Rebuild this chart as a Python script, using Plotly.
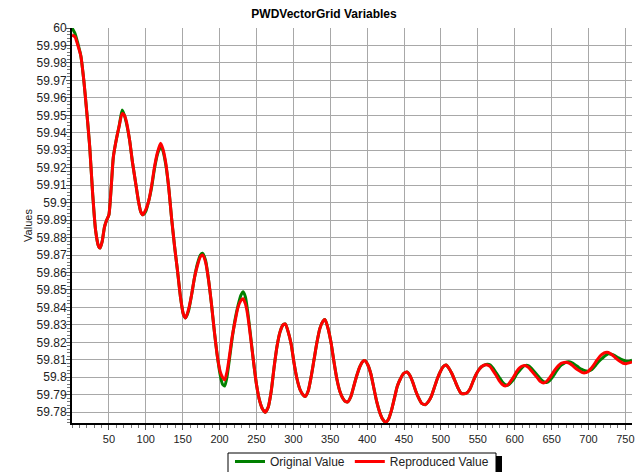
import plotly.graph_objects as go

# ---- data ----
x_vals = [0, 4, 8, 12, 16, 20, 24, 28, 32, 36, 38, 41, 44, 47, 50, 53, 56, 60, 64, 68,
          71, 74, 78, 82, 86, 90, 93, 96, 100, 104, 108, 112, 116, 120, 123, 127, 131, 135, 139, 143,
          147, 151, 154, 158, 162, 166, 170, 174, 177, 181, 185, 189, 193, 197, 201, 204, 207, 210, 213, 217,
          221, 225, 229, 232, 235, 238, 242, 246, 250, 254, 258, 262, 266, 270, 274, 278, 282, 286, 289, 293,
          297, 301, 305, 309, 313, 316, 320, 324, 328, 332, 336, 340, 343, 347, 351, 355, 359, 363, 367, 371,
          374, 378, 382, 386, 390, 394, 397, 401, 405, 409, 413, 417, 421, 425, 429, 433, 437, 441, 445, 449,
          454, 458, 462, 466, 470, 474, 479, 483, 487, 491, 495, 499, 503, 507, 511, 515, 519, 523, 527, 531,
          535, 539, 543, 547, 551, 555, 559, 563, 567, 571, 575, 579, 583, 587, 591, 595, 599, 603, 607, 611,
          615, 619, 623, 627, 631, 635, 639, 643, 647, 651, 655, 659, 663, 667, 671, 675, 679, 683, 687, 691,
          695, 699, 703, 707, 711, 715, 719, 723, 727, 731, 735, 739, 743, 747, 751, 755, 759]

original_value = [60.000, 59.997, 59.991, 59.984, 59.970, 59.952, 59.932, 59.905, 59.884, 59.875, 59.874, 59.878, 59.886, 59.890, 59.893, 59.908, 59.926, 59.936, 59.944, 59.953,
                  59.950, 59.945, 59.936, 59.923, 59.912, 59.901, 59.895, 59.893, 59.895, 59.901, 59.909, 59.920, 59.928, 59.932, 59.930, 59.922, 59.909, 59.891, 59.875, 59.861,
                  59.846, 59.836, 59.834, 59.838, 59.847, 59.857, 59.865, 59.870, 59.871, 59.867, 59.856, 59.842, 59.826, 59.812, 59.801, 59.796, 59.795, 59.800, 59.809, 59.822,
                  59.833, 59.841, 59.847, 59.849, 59.846, 59.838, 59.824, 59.809, 59.796, 59.787, 59.782, 59.780, 59.783, 59.792, 59.806, 59.818, 59.826, 59.830, 59.8305, 59.826,
                  59.819, 59.808, 59.799, 59.793, 59.790, 59.789, 59.792, 59.800, 59.810, 59.820, 59.828, 59.832, 59.833, 59.828, 59.820, 59.809, 59.799, 59.792, 59.788, 59.786,
                  59.786, 59.789, 59.795, 59.801, 59.806, 59.809, 59.8095, 59.807, 59.802, 59.794, 59.786, 59.780, 59.776, 59.7742, 59.776, 59.781, 59.788, 59.795, 59.799, 59.802,
                  59.803, 59.801, 59.797, 59.792, 59.788, 59.785, 59.7843, 59.786, 59.789, 59.794, 59.799, 59.803, 59.806, 59.807, 59.805, 59.802, 59.798, 59.794, 59.791, 59.7905,
                  59.791, 59.793, 59.797, 59.801, 59.804, 59.806, 59.807, 59.8074, 59.8070, 59.805, 59.8025, 59.800, 59.7975, 59.7958, 59.7955, 59.797, 59.799, 59.802, 59.804, 59.806,
                  59.8068, 59.8065, 59.805, 59.803, 59.801, 59.799, 59.7975, 59.797, 59.798, 59.800, 59.8025, 59.805, 59.807, 59.808, 59.8088, 59.8088, 59.808, 59.8068, 59.8055, 59.8045,
                  59.8038, 59.8035, 59.804, 59.8055, 59.8075, 59.8095, 59.811, 59.8125, 59.8135, 59.8132, 59.8125, 59.8115, 59.8105, 59.8098, 59.8092, 59.8092, 59.8098]

reproduced_value = [59.996, 59.995, 59.990, 59.984, 59.970, 59.952, 59.932, 59.905, 59.884, 59.875, 59.874, 59.878, 59.886, 59.890, 59.893, 59.908, 59.926, 59.936, 59.944, 59.951,
                    59.950, 59.946, 59.936, 59.923, 59.912, 59.901, 59.895, 59.893, 59.896, 59.901, 59.910, 59.921, 59.929, 59.934, 59.931, 59.923, 59.909, 59.891, 59.875, 59.861,
                    59.846, 59.836, 59.834, 59.839, 59.847, 59.857, 59.864, 59.869, 59.870, 59.866, 59.856, 59.842, 59.826, 59.812, 59.803, 59.800, 59.7985, 59.803, 59.811, 59.823,
                    59.832, 59.840, 59.844, 59.845, 59.842, 59.836, 59.823, 59.809, 59.796, 59.787, 59.782, 59.780, 59.783, 59.792, 59.806, 59.818, 59.826, 59.830, 59.8305, 59.826,
                    59.819, 59.808, 59.799, 59.793, 59.790, 59.789, 59.792, 59.800, 59.810, 59.820, 59.828, 59.832, 59.833, 59.828, 59.820, 59.809, 59.799, 59.792, 59.788, 59.786,
                    59.786, 59.789, 59.795, 59.801, 59.806, 59.809, 59.8095, 59.807, 59.802, 59.794, 59.786, 59.780, 59.776, 59.7742, 59.776, 59.781, 59.788, 59.795, 59.799, 59.802,
                    59.803, 59.801, 59.797, 59.792, 59.788, 59.785, 59.7843, 59.786, 59.789, 59.794, 59.799, 59.803, 59.806, 59.807, 59.805, 59.802, 59.798, 59.794, 59.791, 59.7905,
                    59.791, 59.793, 59.797, 59.801, 59.804, 59.806, 59.807, 59.8070, 59.8060, 59.8035, 59.801, 59.798, 59.796, 59.795, 59.7958, 59.798, 59.8005, 59.8035, 59.8055, 59.8065,
                    59.8066, 59.8055, 59.8035, 59.8015, 59.7995, 59.7975, 59.7967, 59.7975, 59.7995, 59.802, 59.8045, 59.8065, 59.808, 59.8085, 59.8085, 59.8078, 59.8065, 59.805, 59.8038, 59.8028,
                    59.8025, 59.8032, 59.8048, 59.807, 59.8095, 59.8118, 59.8133, 59.8142, 59.8142, 59.8132, 59.8118, 59.8102, 59.809, 59.808, 59.8078, 59.8082, 59.8088]

x_tick_vals = [50, 100, 150, 200, 250, 300, 350, 400, 450, 500, 550, 600, 650, 700, 750]
x_tick_text = ["50", "100", "150", "200", "250", "300", "350", "400", "450", "500", "550", "600", "650", "700", "750"]
y_tick_vals = [59.78, 59.79, 59.80, 59.81, 59.82, 59.83, 59.84, 59.85, 59.86, 59.87, 59.88,
               59.89, 59.90, 59.91, 59.92, 59.93, 59.94, 59.95, 59.96, 59.97, 59.98, 59.99, 60.00]
y_tick_text = ["59.78", "59.79", "59.8", "59.81", "59.82", "59.83", "59.84", "59.85", "59.86", "59.87", "59.88",
               "59.89", "59.9", "59.91", "59.92", "59.93", "59.94", "59.95", "59.96", "59.97", "59.98", "59.99", "60"]

FONT = "Liberation Sans, Arial, sans-serif"

fig = go.Figure()
fig.add_trace(go.Scatter(x=x_vals, y=original_value, mode="lines", name="Original Value",
                         line=dict(color="#008000", width=3, shape="spline", smoothing=0.6)))
fig.add_trace(go.Scatter(x=x_vals, y=reproduced_value, mode="lines", name="Reproduced Value",
                         line=dict(color="#ff0000", width=3, shape="spline", smoothing=0.6)))

fig.update_layout(
    width=636, height=472,
    margin=dict(l=72, r=4, t=28, b=49, autoexpand=False),
    paper_bgcolor="white", plot_bgcolor="white",
    font=dict(family=FONT, size=12, color="#222222"),
    title=dict(text="<b>PWDVectorGrid Variables</b>", x=324/636, xanchor="center",
               y=1 - 14/472, yanchor="middle", font=dict(family=FONT, size=12, color="black")),
    showlegend=True,
    legend=dict(orientation="h", x=(362 - 72) / 560, xanchor="center",
                y=(423 - 447) / 395, yanchor="top", borderwidth=0, bgcolor="rgba(0,0,0,0)",
                font=dict(family=FONT, size=12, color="#222222"), traceorder="normal",
                itemwidth=30, tracegroupgap=0),
    xaxis=dict(range=[0, 759], tickmode="array", tickvals=x_tick_vals, ticktext=x_tick_text,
               showgrid=True, gridcolor="#a8a8a8", gridwidth=1, zeroline=False,
               showline=True, linecolor="black", linewidth=2, ticks="outside", ticklen=5,
               tickcolor="#555555", tickfont=dict(size=11),
               minor=dict(tickmode="linear", tick0=0, dtick=10, ticks="outside", ticklen=3,
                          tickcolor="#777777", showgrid=False)),
    yaxis=dict(range=[59.7738, 60.0], tickmode="array", tickvals=y_tick_vals, ticktext=y_tick_text,
               showgrid=True, gridcolor="#a8a8a8", gridwidth=1, zeroline=False,
               showline=True, linecolor="black", linewidth=2, ticks="outside", ticklen=4,
               tickcolor="#555555", tickfont=dict(size=12), ticklabelstandoff=-3,
               title=dict(text="Values", font=dict(size=11), standoff=2),
               minor=dict(tickmode="linear", tick0=59.78, dtick=0.002, ticks="outside", ticklen=3,
                          tickcolor="#777777", showgrid=False)),
)

# legend frame and its drop-shadow (black bar on the right of the box)
fig.add_shape(type="rect", xref="paper", yref="paper",
              x0=(496 - 72) / 560, x1=(502 - 72) / 560, y0=(423 - 474) / 395, y1=(423 - 456) / 395,
              fillcolor="black", line=dict(width=0), layer="above")
fig.add_shape(type="rect", xref="paper", yref="paper",
              x0=(228 - 72) / 560, x1=(496 - 72) / 560, y0=(423 - 480) / 395, y1=(423 - 453) / 395,
              fillcolor="white", line=dict(color="black", width=1), layer="above")

# the page's default 8px body margin would shift the whole figure; remove it
fig.write_html("out.html", config={"displayModeBar": False},
               post_script="document.body.style.margin='0';")
